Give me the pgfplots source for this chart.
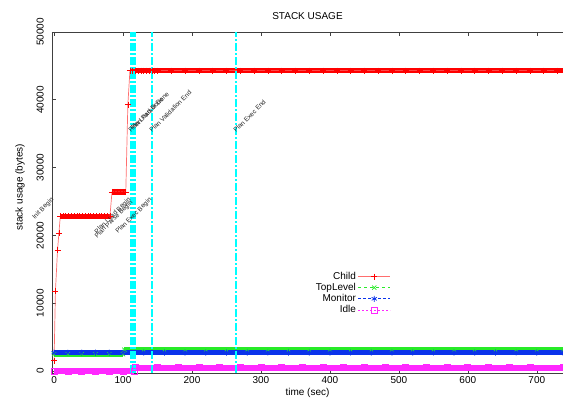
\documentclass[border=0pt]{standalone}
\usepackage{pgfplots}
\pgfplotsset{compat=1.18}
\usepackage{fontspec}
\setmainfont{Liberation Sans}
\definecolor{gpred}{RGB}{255,0,0}
\definecolor{gpline}{RGB}{255,110,110}
\definecolor{gpgreen}{RGB}{40,235,40}
\definecolor{gpblue}{RGB}{10,50,235}
\definecolor{gpmag}{RGB}{255,40,255}
\definecolor{gpcyan}{RGB}{0,255,255}
\begin{document}
\begin{tikzpicture}
\begin{axis}[
  name=ax,
  scale only axis, width=511bp, height=341bp,
  xmin=-3, xmax=738, ymin=-300, ymax=50000,
  xtick={0,100,...,700}, ytick={0,10000,20000,30000,40000,50000},
  scaled y ticks=false,
  /pgf/number format/1000 sep={},
  /pgf/number format/assume math mode=true,
  axis x line*=box, axis y line*=left,
  xtick pos=both, ytick pos=left,
  axis line style={-, line width=0.7bp, black!75},
  tick align=inside, major tick length=4bp,
  tick style={line width=0.6bp, black!75},
  font=\fontsize{10bp}{12bp}\selectfont,
  yticklabel style={rotate=90, anchor=south, inner sep=0pt, inner ysep=8bp},
  title={STACK USAGE},
  title style={yshift=3bp},
  xlabel={time (sec)},
  xlabel style={at={(axis description cs:0.5,0)}, anchor=center, yshift=-20bp},
  ylabel={stack usage (bytes)},
  ylabel style={at={(axis description cs:-0.0626,0.545)}, anchor=center},
  clip=false,
  legend cell align=right, legend plot pos=right,
  legend style={draw=none, fill=none, at={(rel axis cs:0.665,0.305)}, anchor=north east,
    font=\fontsize{10bp}{11bp}\selectfont, row sep=-1.6bp, inner sep=1bp},
  legend image code/.code={\draw[mark repeat=2,mark phase=2,#1] plot coordinates {(0bp,0bp)(16bp,0bp)(32bp,0bp)};},
]
% Child
\addplot[gpred, line width=5.5bp, forget plot] coordinates {(9,22800)(81,22800)};
\addplot[gpred, line width=5.5bp, forget plot] coordinates {(84,26400)(104,26400)};
\addplot[gpred, line width=5.5bp, forget plot] coordinates {(110,44300)(738,44300)};
\addplot[gpline, line width=0.7bp, mark=+, mark size=3bp, mark options={gpred, solid, line width=0.6bp}] coordinates {
(0,1500)(2,11800)(5,17800)(7,20300)(9,22800)(13,22800)(17,22800)(21,22800)(25,22800)(29,22800)
(33,22800)(37,22800)(41,22800)(45,22800)(49,22800)(53,22800)(57,22800)(61,22800)(65,22800)(69,22800)
(73,22800)(77,22800)(81,22800)(84,26400)(88,26400)(92,26400)(96,26400)(100,26400)(104,26400)(107,39300)
(110,44300)(114,44300)(118,44300)(122,44300)(126,44300)(130,44300)(134,44300)(138,44300)(142,44300)(146,44300)
(150,44300)(170,44300)(190,44300)(210,44300)(230,44300)(250,44300)(270,44300)(290,44300)(310,44300)(330,44300)
(350,44300)(370,44300)(390,44300)(410,44300)(430,44300)(450,44300)(470,44300)(490,44300)(510,44300)(530,44300)
(550,44300)(570,44300)(590,44300)(610,44300)(630,44300)(650,44300)(670,44300)(690,44300)(710,44300)(730,44300)(738,44300)};
\addlegendentry{Child}
% TopLevel
\addplot[gpgreen, line width=5.5bp, forget plot] coordinates {(0,2480)(100,2480)};
\addplot[gpgreen, line width=5.5bp, forget plot] coordinates {(102,3130)(738,3130)};
\addplot[gpgreen, dashed, line width=0.7bp, mark=x, mark size=3bp, mark options={solid}] coordinates {
(0,2480)(20,2480)(40,2480)(60,2480)(80,2480)(100,2480)(102,3130)(130,3130)(160,3130)(190,3130)(220,3130)
(250,3130)(280,3130)(310,3130)(340,3130)(370,3130)(400,3130)(430,3130)(460,3130)(490,3130)(520,3130)
(550,3130)(580,3130)(610,3130)(640,3130)(670,3130)(700,3130)(738,3130)};
\addlegendentry{TopLevel}
% Monitor
\addplot[gpblue, line width=5.5bp, forget plot] coordinates {(0,2700)(738,2700)};
\addplot[gpblue, densely dashed, line width=0.7bp, mark=asterisk, mark size=3bp, mark options={solid}] coordinates {
(0,2700)(20,2700)(40,2700)(60,2700)(80,2700)(100,2700)(130,2700)(160,2700)(190,2700)(220,2700)
(250,2700)(280,2700)(310,2700)(340,2700)(370,2700)(400,2700)(430,2700)(460,2700)(490,2700)(520,2700)
(550,2700)(580,2700)(610,2700)(640,2700)(670,2700)(700,2700)(738,2700)};
\addlegendentry{Monitor}
% Idle
\addplot[gpmag, line width=6bp, forget plot] coordinates {(0,0)(116,0)};
\addplot[gpmag, line width=6bp, forget plot] coordinates {(118,500)(738,500)};
\addplot[gpmag, dash pattern=on 2bp off 2bp, line width=0.7bp, mark=square, mark size=3bp, mark options={solid}] coordinates {
(0,0)(20,0)(40,0)(60,0)(80,0)(100,0)(116,0)(118,500)(150,500)(180,500)(210,500)(240,500)(270,500)
(300,500)(330,500)(360,500)(390,500)(420,500)(450,500)(480,500)(510,500)(540,500)(570,500)(600,500)
(630,500)(660,500)(690,500)(738,500)};
\addlegendentry{Idle}
% event lines
\addplot[draw=gpcyan, line width=1.4bp, dash pattern=on 8bp off 2bp on 2bp off 2bp, forget plot] coordinates {(111.56,-300)(111.56,50000)};
\addplot[draw=gpcyan, line width=1.4bp, dash pattern=on 8bp off 2bp on 2bp off 2bp, forget plot] coordinates {(114.46,-300)(114.46,50000)};
\addplot[draw=gpcyan, line width=1.4bp, dash pattern=on 8bp off 2bp on 2bp off 2bp, forget plot] coordinates {(117.36,-300)(117.36,50000)};
\addplot[draw=gpcyan, line width=1.4bp, dash pattern=on 8bp off 2bp on 2bp off 2bp, forget plot] coordinates {(142.02,-300)(142.02,50000)};
\addplot[draw=gpcyan, line width=1.4bp, dash pattern=on 8bp off 2bp on 2bp off 2bp, forget plot] coordinates {(263.82,-300)(263.82,50000)};
% event labels
\tikzset{evlab/.style={rotate=45, inner sep=0pt, font=\fontsize{6.5bp}{7bp}\selectfont, text=black!85}}
\node[evlab, anchor=base east] at (axis cs:0,25200) {Init Begin};
\node[evlab, anchor=base east] at (axis cs:111.56,25200) {Plan Load Begin};
\node[evlab, anchor=base east] at (axis cs:114.46,24800) {Plan Parse Begin};
\node[evlab, anchor=base east] at (axis cs:142.02,25200) {Plan Exec Begin};
\node[evlab, anchor=base west] at (axis cs:111.56,35100) {Plan Load Done};
\node[evlab, anchor=base west] at (axis cs:114.46,35400) {Plan Parser Done};
\node[evlab, anchor=base west] at (axis cs:142.02,35100) {Plan Validation End};
\node[evlab, anchor=base west] at (axis cs:263.82,35100) {Plan Exec End};
\end{axis}
\path (ax.south west) ++(-52bp,-33bp) coordinate (A);
\path (ax.north east) ++(0bp,32bp) coordinate (B);
\pgfresetboundingbox
\useasboundingbox (A) rectangle (B);
\end{tikzpicture}
\end{document}
